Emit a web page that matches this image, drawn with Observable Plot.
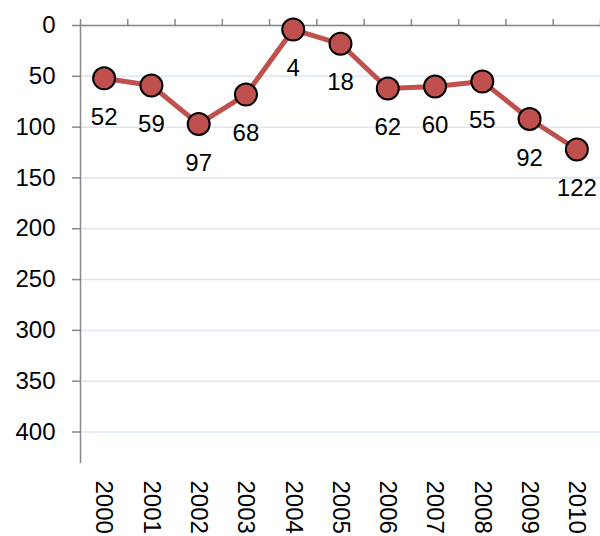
<!DOCTYPE html>
<html>
<head>
<meta charset="utf-8">
<script src="https://cdn.jsdelivr.net/npm/d3@7"></script>
<script src="https://cdn.jsdelivr.net/npm/@observablehq/plot@0.6"></script>
<style>
html, body { margin: 0; padding: 0; background: #fff; }
#chart { width: 600px; height: 536px; overflow: hidden; }
</style>
</head>
<body>
<div id="chart"></div>
<script>
const years = [2000, 2001, 2002, 2003, 2004, 2005, 2006, 2007, 2008, 2009, 2010];
const values = [52, 59, 97, 68, 4, 18, 62, 60, 55, 92, 122];
const yTicks = [0, 50, 100, 150, 200, 250, 300, 350, 400];
const boundaries = [1999.5, 2000.5, 2001.5, 2002.5, 2003.5, 2004.5, 2005.5, 2006.5, 2007.5, 2008.5, 2009.5, 2010.5];

const data = years.map((y, i) => ({year: y, value: values[i]}));
const font = "'Liberation Sans', Arial, Helvetica, sans-serif";

const chart = Plot.plot({
  width: 600,
  height: 536,
  marginLeft: 80,
  marginRight: 0,
  marginTop: 25,
  marginBottom: 74,
  style: {fontFamily: font, background: "#fff", overflow: "hidden"},
  x: {type: "linear", domain: [1999.5, 2010.5], label: null},
  y: {domain: [0, 430], reverse: true, label: null},
  marks: [
    Plot.gridY(yTicks, {stroke: "#dce6f2", strokeOpacity: 1, strokeWidth: 1.5}),
    Plot.axisY(yTicks, {tickSize: 8, tickPadding: 17, fontSize: 24, stroke: "#888", fill: "#000", strokeWidth: 1.5, label: null}),
    Plot.ruleY([0], {stroke: "#888", strokeWidth: 1.5}),
    Plot.frame({anchor: "left", stroke: "#888", strokeWidth: 1.5}),
    Plot.axisX(boundaries, {anchor: "top", tickSize: 7, tickFormat: () => "", stroke: "#888", strokeWidth: 1.5, label: null}),
    Plot.axisX(years, {anchor: "bottom", tickSize: 0, tickPadding: 18, tickRotate: 90, fontSize: 24, fill: "#000", tickFormat: d => String(d), label: null}),
    Plot.lineY(data, {x: "year", y: "value", stroke: "#c0504d", strokeWidth: 5}),
    Plot.dot(data, {x: "year", y: "value", r: 11, fill: "#c0504d", stroke: "#000", strokeWidth: 2}),
    Plot.text(data, {x: "year", y: "value", text: d => String(d.value), dy: 39, fontSize: 24, fill: "#000"})
  ]
});
document.getElementById("chart").appendChild(chart);
</script>
</body>
</html>
